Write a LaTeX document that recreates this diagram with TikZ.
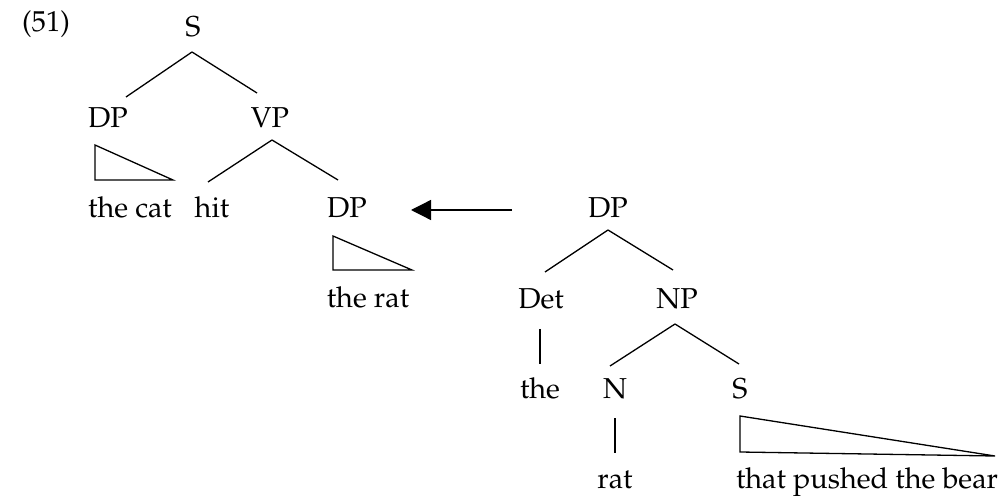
\documentclass[tikz,border=0pt]{standalone}
\usepackage[T1]{fontenc}
\usepackage{mathpazo}
\usetikzlibrary{arrows.meta,calc}
\begin{document}
\begin{tikzpicture}[x=0.5pt,y=-0.5pt,
  lbl/.style={anchor=base,inner sep=0pt,font=\fontsize{14.4}{16}\selectfont},
  edge/.style={line width=0.65pt},
  tri/.style={line width=0.65pt,line join=miter}]
\useasboundingbox (0,0) rectangle (1005,496);
% nodes
\node[lbl] (ex) at (46,32) {(51)};
\node[lbl] (S) at (193,37) {S};
\node[lbl] (DPa) at (108,128) {DP};
\node[lbl] (VP) at (270,128) {VP};
\node[lbl] (cat) at (130,218) {the cat};
\node[lbl] (hit) at (212,218) {hit};
\node[lbl] (DPb) at (347,218) {DP};
\node[lbl] (ratA) at (368,307) {the rat};
\node[lbl] (DPc) at (608,218) {DP};
\node[lbl] (Det) at (541,308) {Det};
\node[lbl] (NP) at (677,308) {NP};
\node[lbl] (the) at (540,398) {the};
\node[lbl] (N) at (615,398) {N};
\node[lbl] (Sb) at (740,398) {S};
\node[lbl] (rat) at (615,488) {rat};
\node[lbl] (bear) at (867,488) {that pushed the bear};
% edges
\draw[edge] ($(S.base)+(-1,15)$) -- ($(DPa.base)+(18,-31)$);
\draw[edge] ($(S.base)+(-1,15)$) -- ($(VP.base)+(-13,-35)$);
\draw[edge] ($(VP.base)+(2,12)$) -- ($(hit.base)+(-4,-36)$);
\draw[edge] ($(VP.base)+(2,12)$) -- ($(DPb.base)+(-9,-38)$);
\draw[edge] ($(DPc.base)+(0,12)$) -- ($(Det.base)+(4,-36)$);
\draw[edge] ($(DPc.base)+(0,12)$) -- ($(NP.base)+(-4,-38)$);
\draw[edge] ($(Det.base)+(-1,21)$) -- ($(the.base)+(0,-34)$);
\draw[edge] ($(NP.base)+(-2,16)$) -- ($(N.base)+(-5,-32)$);
\draw[edge] ($(NP.base)+(-2,16)$) -- ($(Sb.base)+(-1,-34)$);
\draw[edge] ($(N.base)+(0,20)$) -- ($(rat.base)+(0,-35)$);
% triangles
\draw[tri] ($(DPa.base)+(-13,17)$) -- ($(DPa.base)+(-13,52)$) -- ($(DPa.base)+(65,52)$) -- cycle;
\draw[tri] ($(DPb.base)+(-14,18)$) -- ($(DPb.base)+(-14,52)$) -- ($(DPb.base)+(65,52)$) -- cycle;
\draw[tri] ($(Sb.base)+(0,18)$) -- ($(Sb.base)+(0,54)$) -- ($(Sb.base)+(255,58)$) -- cycle;
% movement arrow
\draw[edge,-{Triangle[length=10pt,width=10pt]}] ($(DPc.base)+(-96,-8)$) -- ($(DPb.base)+(64,-8)$);
\end{tikzpicture}
\end{document}
